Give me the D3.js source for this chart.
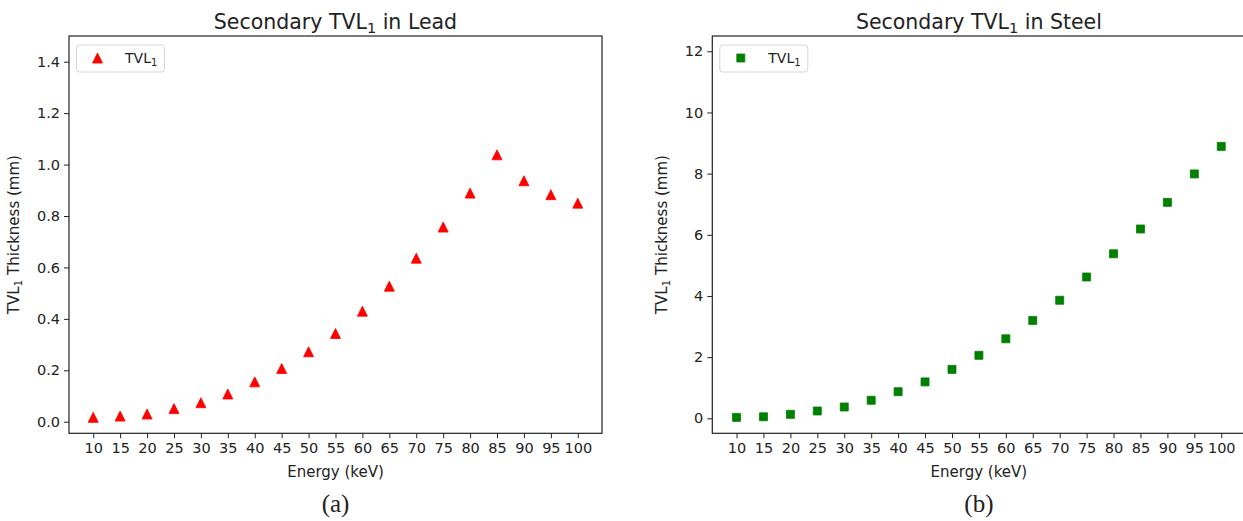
<!DOCTYPE html>
<html>
<head>
<meta charset="utf-8">
<script src="https://cdn.jsdelivr.net/npm/d3@7"></script>
<style>
  body { margin: 0; background: #fff; }
  svg text { font-family: "DejaVu Sans", sans-serif; fill: #222; }
</style>
</head>
<body>
<svg id="chart" width="1243" height="521"></svg>
<script>
// Data
const energies = [10, 15, 20, 25, 30, 35, 40, 45, 50, 55, 60, 65, 70, 75, 80, 85, 90, 95, 100];
const leadTVL = [0.017, 0.022, 0.030, 0.051, 0.074, 0.108, 0.155, 0.207, 0.272, 0.343, 0.430, 0.527, 0.636, 0.757, 0.889, 1.038, 0.937, 0.883, 0.850];
const steelTVL = [0.03, 0.05, 0.13, 0.24, 0.37, 0.59, 0.87, 1.19, 1.60, 2.06, 2.60, 3.20, 3.86, 4.62, 5.38, 6.19, 7.06, 7.99, 8.89];
const leadTicks = [0.0, 0.2, 0.4, 0.6, 0.8, 1.0, 1.2, 1.4];
const steelTicks = [0, 2, 4, 6, 8, 10, 12];

const svg = d3.select("#chart");

// matplotlib style "^" marker: bbox centred triangle
const triangleUp = {
  draw(ctx, size) {
    const r = Math.sqrt(size) / 2;
    ctx.moveTo(0, -r);
    ctx.lineTo(r, r);
    ctx.lineTo(-r, r);
    ctx.closePath();
  }
};

const panels = [
  {
    title: "Secondary TVL", titleEnd: " in Lead", caption: "(a)",
    left: 69, right: 602, values: leadTVL, ticks: leadTicks, fmt: d3.format(".1f"),
    yDomain: [-0.045, 1.5], color: "#ff0000", symbol: triangleUp, size: 100,
    yLabelX: 19
  },
  {
    title: "Secondary TVL", titleEnd: " in Steel", caption: "(b)",
    left: 712.3, right: 1245.5, values: steelTVL, ticks: steelTicks, fmt: d3.format("d"),
    yDomain: [-0.49, 12.5], color: "#008000", symbol: d3.symbolSquare, size: 64,
    yLabelX: 667
  }
];

const plotTop = 36, plotBottom = 433.3;

panels.forEach((p) => {
  const x = d3.scalePoint().domain(energies).range([p.left, p.right]).padding(0.9);
  const y = d3.scaleLinear().domain(p.yDomain).range([plotBottom, plotTop]);
  const g = svg.append("g");
  const cx = (p.left + p.right) / 2;

  // axes
  const xAxis = g.append("g")
    .attr("transform", `translate(0,${plotBottom})`)
    .call(d3.axisBottom(x).tickSize(5).tickPadding(4).tickSizeOuter(0));
  const yAxis = g.append("g")
    .attr("transform", `translate(${p.left},0)`)
    .call(d3.axisLeft(y).tickValues(p.ticks).tickFormat(p.fmt).tickSize(5).tickPadding(4).tickSizeOuter(0));
  [xAxis, yAxis].forEach((a) => {
    a.select(".domain").remove();
    a.selectAll("line").attr("stroke", "#222").attr("stroke-width", 1);
    a.selectAll("text").attr("font-size", 14.5).attr("fill", "#222")
      .style("font-family", "DejaVu Sans");
  });

  // frame
  g.append("rect")
    .attr("x", p.left).attr("y", plotTop)
    .attr("width", p.right - p.left).attr("height", plotBottom - plotTop)
    .attr("fill", "none").attr("stroke", "#222").attr("stroke-width", 1.2);

  // points
  g.append("g")
    .selectAll("path")
    .data(energies.map((e, i) => ({ e, v: p.values[i] })))
    .join("path")
    .attr("transform", (d) => `translate(${x(d.e)},${y(d.v)})`)
    .attr("d", d3.symbol(p.symbol, p.size))
    .attr("fill", p.color)
    .attr("stroke", p.color)
    .attr("stroke-width", 0.8);

  // title
  const t = g.append("text")
    .attr("x", cx).attr("y", 28.5)
    .attr("text-anchor", "middle").attr("font-size", 20.5);
  t.append("tspan").text(p.title);
  t.append("tspan").attr("font-size", 14.5).attr("dy", 4).text("1");
  t.append("tspan").attr("dy", -4).text(p.titleEnd);

  // axis labels
  g.append("text")
    .attr("x", cx).attr("y", 477)
    .attr("text-anchor", "middle").attr("font-size", 15)
    .text("Energy (keV)");
  const yl = g.append("text")
    .attr("transform", `translate(${p.yLabelX},${(plotTop + plotBottom) / 2}) rotate(-90)`)
    .attr("text-anchor", "middle").attr("font-size", 15);
  yl.append("tspan").text("TVL");
  yl.append("tspan").attr("font-size", 10.5).attr("dy", 3).text("1");
  yl.append("tspan").attr("dy", -3).text(" Thickness (mm)");

  // legend
  const lg = g.append("g").attr("transform", `translate(${p.left + 7.5},45)`);
  lg.append("rect")
    .attr("width", 88).attr("height", 27).attr("rx", 3)
    .attr("fill", "#fff").attr("fill-opacity", 0.8)
    .attr("stroke", "#d6d6d6").attr("stroke-width", 1);
  lg.append("path")
    .attr("transform", "translate(21,13)")
    .attr("d", d3.symbol(p.symbol, p.size))
    .attr("fill", p.color).attr("stroke", p.color).attr("stroke-width", 0.8);
  const lt = lg.append("text").attr("x", 48.5).attr("y", 18).attr("font-size", 14);
  lt.append("tspan").text("TVL");
  lt.append("tspan").attr("font-size", 10).attr("dy", 3).text("1");

  // caption
  svg.append("text")
    .attr("x", cx).attr("y", 512)
    .attr("text-anchor", "middle")
    .attr("font-size", 25)
    .style("font-family", "'Liberation Serif', serif")
    .attr("fill", "#000")
    .text(p.caption);
});
</script>
</body>
</html>
